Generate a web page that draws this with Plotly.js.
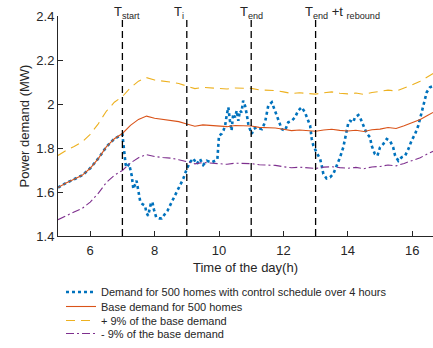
<!DOCTYPE html>
<html>
<head>
<meta charset="utf-8">
<script src="https://cdn.plot.ly/plotly-3.0.1.min.js"></script>
<style>html,body{margin:0;padding:0;background:#fff;}#chart{width:433px;height:348px;}</style>
</head>
<body>
<div id="chart"></div>
<script>
// ---- data ----
const baseX = [5,5.25,5.5,5.75,6,6.25,6.5,6.75,7,7.25,7.5,7.75,8,8.25,8.5,8.75,9,9.25,9.5,9.75,10,10.25,10.5,10.75,11,11.25,11.5,11.75,12,12.25,12.5,12.75,13,13.25,13.5,13.75,14,14.25,14.5,14.75,15,15.25,15.5,15.75,16,16.25,16.5,16.65];
const baseY = [1.620,1.641,1.658,1.676,1.708,1.752,1.805,1.842,1.866,1.903,1.930,1.945,1.935,1.931,1.927,1.920,1.909,1.899,1.905,1.903,1.901,1.897,1.902,1.902,1.900,1.894,1.894,1.891,1.885,1.879,1.882,1.878,1.876,1.882,1.885,1.880,1.877,1.881,1.875,1.883,1.886,1.893,1.889,1.901,1.915,1.930,1.950,1.962];
const upperY = [1.766,1.789,1.807,1.827,1.862,1.910,1.967,2.008,2.034,2.074,2.104,2.120,2.109,2.105,2.100,2.093,2.081,2.070,2.076,2.074,2.072,2.068,2.073,2.073,2.071,2.064,2.064,2.061,2.055,2.048,2.051,2.047,2.045,2.051,2.055,2.049,2.046,2.050,2.044,2.052,2.056,2.063,2.059,2.072,2.087,2.104,2.126,2.139];
const lowerY = [1.474,1.493,1.509,1.525,1.554,1.594,1.643,1.676,1.698,1.732,1.756,1.770,1.761,1.757,1.754,1.747,1.737,1.728,1.734,1.732,1.730,1.726,1.731,1.731,1.729,1.724,1.724,1.721,1.715,1.710,1.713,1.709,1.707,1.713,1.715,1.711,1.708,1.712,1.706,1.714,1.716,1.723,1.719,1.730,1.743,1.756,1.775,1.785];
const ctrlX = [5,5.25,5.5,5.75,6,6.25,6.5,6.75,7,7.05,7.10,7.13,7.21,7.29,7.34,7.44,7.49,7.55,7.62,7.70,7.75,7.80,7.88,7.93,7.98,8.05,8.15,8.22,8.32,8.40,8.50,8.58,8.69,8.79,8.89,9.00,9.10,9.20,9.26,9.31,9.41,9.51,9.62,9.70,9.77,9.88,9.95,10.00,10.08,10.14,10.19,10.24,10.29,10.34,10.39,10.44,10.50,10.55,10.60,10.65,10.70,10.75,10.81,10.86,10.91,10.96,11.02,11.07,11.17,11.33,11.43,11.48,11.53,11.64,11.74,11.84,11.95,12.05,12.15,12.26,12.36,12.46,12.57,12.67,12.77,12.83,12.88,12.93,13.03,13.14,13.19,13.24,13.34,13.45,13.55,13.66,13.76,13.86,13.91,13.97,14.02,14.07,14.17,14.22,14.33,14.38,14.48,14.58,14.69,14.74,14.84,14.92,15.00,15.10,15.21,15.31,15.41,15.47,15.57,15.67,15.78,15.88,15.98,16.09,16.19,16.29,16.35,16.45,16.55,16.65];
const ctrlY = [1.620,1.641,1.658,1.676,1.708,1.752,1.805,1.842,1.862,1.780,1.725,1.712,1.727,1.674,1.614,1.651,1.614,1.560,1.545,1.538,1.505,1.492,1.545,1.555,1.520,1.485,1.480,1.480,1.500,1.515,1.545,1.568,1.599,1.625,1.660,1.705,1.735,1.753,1.738,1.727,1.750,1.723,1.742,1.738,1.735,1.742,1.750,1.856,1.864,1.880,1.902,1.950,1.985,1.924,1.879,1.955,1.939,1.970,1.924,1.970,1.962,2.015,1.992,1.955,1.909,1.886,1.864,1.886,1.894,1.886,1.917,1.955,1.992,2.008,1.970,1.924,1.886,1.879,1.917,1.924,1.939,1.970,1.985,1.962,1.924,1.902,1.841,1.811,1.780,1.750,1.720,1.682,1.662,1.667,1.682,1.720,1.758,1.803,1.841,1.886,1.917,1.924,1.917,1.939,1.950,1.939,1.902,1.868,1.849,1.811,1.773,1.765,1.803,1.818,1.841,1.833,1.803,1.765,1.742,1.758,1.765,1.795,1.833,1.864,1.902,1.962,1.992,2.053,2.076,2.081];
const eventX = [7, 9, 11, 13];
const eventLabels = ['T<sub>start</sub>', 'T<sub>i</sub>', 'T<sub>end</sub>', 'T<sub>end</sub> +t <sub>rebound</sub>'];
const eventLabelX = [6.67, 8.55, 10.58, 12.62];
const seriesNames = ['Demand for 500 homes with control schedule over 4 hours', 'Base demand for 500 homes', '+ 9% of the base demand', '- 9% of the base demand'];

const FONT = 'Liberation Sans, Arial, Helvetica, sans-serif';
const TXT = '#262626';

const traces = [
  {x: ctrlX, y: ctrlY, name: seriesNames[0], mode: 'lines', line: {color: '#0072BD', width: 2.6, dash: 'dot'}, legend: 'legend'},
  {x: baseX, y: baseY, name: seriesNames[1], mode: 'lines', line: {color: '#D95319', width: 1.1}, legend: 'legend2'},
  {x: baseX, y: upperY, name: seriesNames[2], mode: 'lines', line: {color: '#EDB120', width: 1.1, dash: '9px,6px'}, legend: 'legend3'},
  {x: baseX, y: lowerY, name: seriesNames[3], mode: 'lines', line: {color: '#7E2F8E', width: 1.1, dash: '8px,3px,2px,3px'}, legend: 'legend4'}
];

const shapes = eventX.map(v => ({type: 'line', xref: 'x', yref: 'y', x0: v, x1: v, y0: 1.4, y1: 2.385,
  line: {color: '#000', width: 1.3, dash: '7px,4px'}}));

const annotations = eventLabels.map((t, i) => ({text: t, xref: 'x', yref: 'paper', x: eventLabelX[i], y: 1.018,
  xanchor: 'left', yanchor: 'middle', showarrow: false, font: {family: FONT, size: 13, color: TXT}}));

function leg(py) {
  return {x: 0.008, xanchor: 'left', y: (237 - py) / 221, yanchor: 'middle', bgcolor: 'rgba(0,0,0,0)', borderwidth: 0,
    font: {family: FONT, size: 11, color: TXT}, tracegroupgap: 0};
}

const layout = {
  width: 433, height: 348,
  margin: {l: 58, r: 0, t: 16, b: 111, pad: 0},
  paper_bgcolor: '#fff', plot_bgcolor: '#fff',
  font: {family: FONT, color: TXT},
  showlegend: true,
  legend: leg(292), legend2: leg(306.5), legend3: leg(320.5), legend4: leg(334.5),
  xaxis: {range: [5, 16.646], tickmode: 'linear', tick0: 6, dtick: 2, ticks: 'inside', ticklen: 5, tickwidth: 1,
    tickcolor: TXT, showline: true, linecolor: TXT, linewidth: 1, showgrid: false, zeroline: false, mirror: false,
    ticklabelstandoff: 2,
    tickfont: {family: FONT, size: 13, color: TXT},
    title: {text: 'Time of the day(h)', font: {family: FONT, size: 13, color: TXT}, standoff: 6}},
  yaxis: {range: [1.4, 2.4001], tickmode: 'linear', tick0: 1.4, dtick: 0.2, ticks: 'inside', ticklen: 5, tickwidth: 1,
    tickcolor: TXT, showline: true, linecolor: TXT, linewidth: 1, showgrid: false, zeroline: false, mirror: false,
    tickfont: {family: FONT, size: 13, color: TXT},
    title: {text: 'Power demand (MW)', font: {family: FONT, size: 13, color: TXT}, standoff: 3}},
  shapes: shapes,
  annotations: annotations
};

Plotly.newPlot('chart', traces, layout, {displayModeBar: false, staticPlot: true});
</script>
</body>
</html>
